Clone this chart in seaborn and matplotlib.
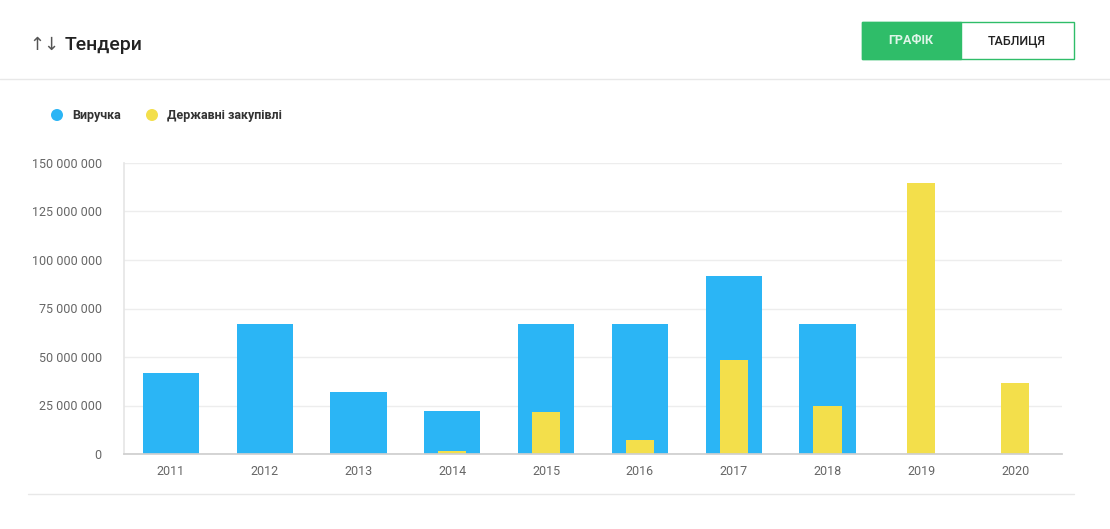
import pandas as pd
import seaborn as sns
import matplotlib.pyplot as plt
from matplotlib.patches import Rectangle, Ellipse
from matplotlib.ticker import FuncFormatter, MultipleLocator

years = ["2011", "2012", "2013", "2014", "2015", "2016", "2017", "2018", "2019", "2020"]
revenue = [42_000_000, 67_000_000, 32_000_000, 22_000_000, 67_000_000,
           67_000_000, 92_000_000, 67_000_000, 0, 0]
procurement = [0, 0, 0, 1_800_000, 21_700_000, 7_200_000, 48_500_000,
               24_700_000, 139_500_000, 36_700_000]

BLUE = "#2bb5f5"
YELLOW = "#f3df4b"
GREEN = "#2fbd69"

W, H = 1110, 529

sns.set_theme(style="white")
plt.rcParams["font.family"] = ["Roboto", "DejaVu Sans"]

df = pd.DataFrame({"year": years, "revenue": revenue, "procurement": procurement})

fig = plt.figure(figsize=(W / 100, H / 100), dpi=100)
ax = fig.add_axes([124 / W, 1 - 454 / H, (1062 - 124) / W, (454 - 163) / H])

# revenue (wide) bars, procurement (narrow) bars on top
sns.barplot(data=df, x="year", y="revenue", order=years, color=BLUE,
            width=0.6, linewidth=0, saturation=1, ax=ax)
sns.barplot(data=df, x="year", y="procurement", order=years, color=YELLOW,
            width=0.3, linewidth=0, saturation=1, ax=ax)

ax.set_xlim(-0.5, len(years) - 0.5)
ax.set_ylim(0, 150_000_000)
ax.yaxis.set_major_locator(MultipleLocator(25_000_000))
ax.yaxis.set_major_formatter(FuncFormatter(lambda v, p: f"{int(v):,}".replace(",", " ")))
ax.set_xlabel("")
ax.set_ylabel("")
ax.grid(axis="y", color="#ededed", linewidth=1)
ax.set_axisbelow(True)
for side in ["top", "right"]:
    ax.spines[side].set_visible(False)
ax.spines["left"].set_color("#e6e6e6")
ax.spines["bottom"].set_color("#cfcfcf")
ax.tick_params(axis="y", length=0, pad=16, labelsize=9, labelcolor="#666666")
ax.tick_params(axis="x", length=0, pad=8, labelsize=9, labelcolor="#666666")

# header
fig.text(29 / W, 1 - 45 / H, "↑↓", fontsize=13, color="#555555", va="center",
         family=["DejaVu Sans"])
fig.text(65 / W, 1 - 45 / H, "Тендери", fontsize=14, fontweight="medium",
         color="#222222", va="center")
fig.add_artist(plt.Line2D([0, 1], [1 - 79 / H, 1 - 79 / H], color="#e8e8e8",
                          linewidth=1, transform=fig.transFigure))
fig.add_artist(plt.Line2D([28 / W, 1074 / W], [1 - 494 / H, 1 - 494 / H],
                          color="#e8e8e8", linewidth=1, transform=fig.transFigure))

# buttons
fig.add_artist(Rectangle((862 / W, 1 - 59 / H), (1074 - 862) / W, 37 / H,
                         facecolor="white", edgecolor=GREEN, linewidth=1,
                         transform=fig.transFigure))
fig.add_artist(Rectangle((862 / W, 1 - 59 / H), (961 - 862) / W, 37 / H,
                         facecolor=GREEN, edgecolor=GREEN, linewidth=1,
                         transform=fig.transFigure))
fig.text(911 / W, 1 - 41 / H, "ГРАФІК", fontsize=9, fontweight="bold",
         color="#dff5e8", ha="center", va="center")
fig.text(1017 / W, 1 - 41 / H, "ТАБЛИЦЯ", fontsize=9, fontweight="medium",
         color="#222222", ha="center", va="center")

# legend
for cx, col, label in [(57, BLUE, "Виручка"), (152, YELLOW, "Державні закупівлі")]:
    fig.add_artist(Ellipse((cx / W, 1 - 115 / H), 12 / W, 12 / H, facecolor=col,
                           edgecolor="none", transform=fig.transFigure))
    fig.text((cx + 15) / W, 1 - 115 / H, label, fontsize=9, fontweight="bold",
             color="#333333", va="center")

fig.savefig("out.png", dpi=100)
